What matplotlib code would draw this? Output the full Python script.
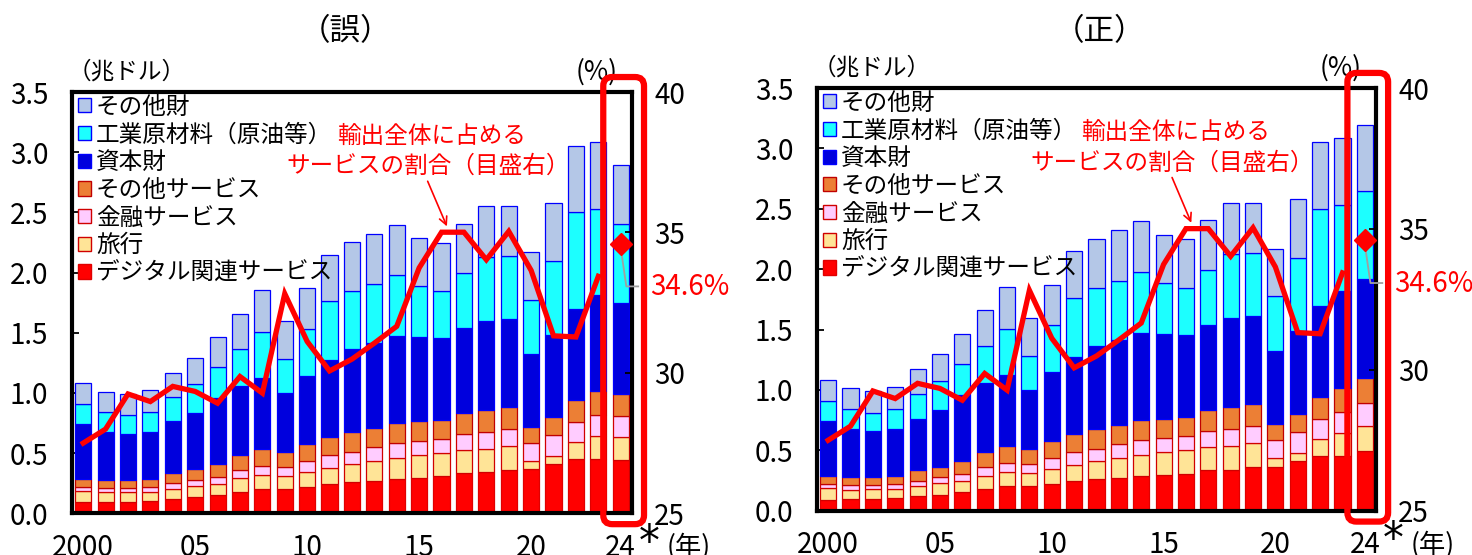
import numpy as np
import matplotlib
matplotlib.use('Agg')
import matplotlib.pyplot as plt
from matplotlib.patches import Patch, FancyBboxPatch
from matplotlib import font_manager

plt.rcParams['font.family'] = ['Noto Sans CJK JP', 'DejaVu Sans']

# 숫자용 좁은 글꼴 (없으면 CJK 글꼴)
installed = {f.name for f in font_manager.fontManager.ttflist}
NUM_FONT = 'Liberation Sans Narrow' if 'Liberation Sans Narrow' in installed else 'Noto Sans CJK JP'

# 데이터 (兆ドル), 2000-2023
years = list(range(2000, 2025))
digital = [0.092, 0.094, 0.097, 0.103, 0.119, 0.133, 0.155, 0.180, 0.202, 0.202, 0.219, 0.247,
           0.261, 0.272, 0.286, 0.297, 0.308, 0.333, 0.341, 0.360, 0.366, 0.410, 0.449, 0.455]
travel = [0.097, 0.081, 0.080, 0.077, 0.083, 0.094, 0.092, 0.111, 0.120, 0.111, 0.125, 0.133,
          0.149, 0.166, 0.177, 0.186, 0.191, 0.191, 0.197, 0.197, 0.067, 0.067, 0.142, 0.188]
finance = [0.033, 0.036, 0.037, 0.039, 0.048, 0.048, 0.053, 0.072, 0.075, 0.070, 0.091, 0.105,
           0.103, 0.111, 0.119, 0.119, 0.117, 0.136, 0.139, 0.145, 0.152, 0.175, 0.166, 0.178]
other_svc = [0.064, 0.064, 0.063, 0.067, 0.086, 0.091, 0.113, 0.122, 0.135, 0.130, 0.139, 0.153,
             0.164, 0.164, 0.167, 0.161, 0.160, 0.172, 0.183, 0.185, 0.136, 0.147, 0.186, 0.199]
capital = [0.454, 0.404, 0.383, 0.388, 0.427, 0.471, 0.544, 0.569, 0.591, 0.485, 0.571, 0.638,
           0.687, 0.701, 0.726, 0.701, 0.680, 0.704, 0.735, 0.727, 0.605, 0.685, 0.754, 0.796]
industrial = [0.167, 0.161, 0.153, 0.166, 0.202, 0.236, 0.258, 0.310, 0.383, 0.286, 0.389, 0.485,
              0.480, 0.491, 0.502, 0.422, 0.388, 0.461, 0.532, 0.521, 0.449, 0.610, 0.804, 0.716]
other_goods = [0.175, 0.172, 0.177, 0.186, 0.205, 0.221, 0.252, 0.294, 0.346, 0.311, 0.338, 0.388,
               0.408, 0.416, 0.422, 0.399, 0.402, 0.407, 0.424, 0.416, 0.394, 0.485, 0.549, 0.552]

# 2024년 값 (digital, travel, finance, other_svc, capital, industrial, other_goods)
wrong_2024 = [0.444, 0.188, 0.175, 0.186, 0.754, 0.657, 0.494]
right_2024 = [0.497, 0.207, 0.190, 0.201, 0.825, 0.730, 0.540]

# 서비스 비중 (%), 2000-2023 + 2024
share = [27.5, 28.0, 29.25, 28.98, 29.52, 29.34, 28.92, 29.87, 29.28, 32.82, 31.12, 30.07,
         30.49, 31.06, 31.66, 33.74, 35.01, 35.01, 34.03, 35.04, 33.65, 31.32, 31.28, 33.44]
share_2024 = 34.6

labels = ['デジタル関連サービス', '旅行', '金融サービス', 'その他サービス',
          '資本財', '工業原材料（原油等）', 'その他財']
face = ['#FF0000', '#FFE497', '#FFCCFF', '#EC7F35', '#0000DD', '#1CFFFF', '#B4C7E7']
edge = ['#E00000', '#D00000', '#D00000', '#C00000', '#0000FF', '#0000FF', '#0000FF']
series = [digital, travel, finance, other_svc, capital, industrial, other_goods]


def draw_panel(ax, vals_2024):
    x = np.arange(len(years))
    bottom = np.zeros(len(years))
    for s, v, fc, ec in zip(series, vals_2024, face, edge):
        h = np.array(s + [v])
        ax.bar(x, h, width=0.72, bottom=bottom, color=fc, edgecolor=ec, linewidth=0.9, zorder=2)
        bottom += h

    ax.set_xlim(-0.5, 24.5)
    ax.set_ylim(0, 3.5)
    ax.set_yticks(np.arange(0, 3.51, 0.5))
    ax.set_yticklabels([f'{v:.1f}' for v in np.arange(0, 3.51, 0.5)], fontfamily=NUM_FONT, fontsize=20)
    ax.set_xticks([0, 5, 10, 15, 20, 24])
    ax.set_xticklabels(['2000', '05', '10', '15', '20', '24'], fontfamily=NUM_FONT, fontsize=20)
    ax.tick_params(axis='y', direction='in', length=5, width=1.3, pad=17)
    ax.tick_params(axis='x', length=0, pad=14)
    for sp in ax.spines.values():
        sp.set_linewidth(3)
        sp.set_zorder(5)

    # 범례
    handles = [Patch(facecolor=fc, edgecolor=ec, linewidth=1) for fc, ec in zip(face, edge)][::-1]
    ax.legend(handles, labels[::-1], loc='upper left', bbox_to_anchor=(0.005, 1.0),
              frameon=False, fontsize=17, handlelength=0.55, handleheight=0.55,
              handletextpad=0.2, labelspacing=0.2, borderpad=0.15, borderaxespad=0)

    # 주석 (두 줄)
    ax.text(15.55, 3.13, '輸出全体に占める', ha='center', va='center',
            color='#FF0000', fontsize=17)
    ax.text(15.4, 2.88, 'サービスの割合（目盛右）', ha='center', va='center',
            color='#FF0000', fontsize=17)
    ax.annotate('', xy=(16.24, 2.384), xytext=(15.38, 2.759),
                arrowprops=dict(arrowstyle='->', color='#FF0000', lw=1.2,
                                shrinkA=0, shrinkB=0, mutation_scale=14))

    ax.text(-0.008, 1.047, '（兆ドル）', transform=ax.transAxes, ha='left', va='center', fontsize=17)
    ax.text(0.9, 1.047, '(%)', transform=ax.transAxes, ha='left', va='center', fontsize=19)
    ax.text(1.012, -0.07, '*', transform=ax.transAxes, ha='left', va='center',
            fontsize=30, fontfamily='DejaVu Sans')
    ax.text(1.062, -0.08, '(年)', transform=ax.transAxes, ha='left', va='center', fontsize=19)

    # 오른쪽 축: 비중
    axr = ax.twinx()
    axr.set_ylim(25, 40)
    axr.set_yticks([25, 30, 35, 40])
    axr.set_yticklabels(['25', '30', '35', '40'], fontfamily=NUM_FONT, fontsize=20)
    axr.tick_params(axis='y', direction='in', length=5, width=1.3, pad=16)
    for sp in axr.spines.values():
        sp.set_visible(False)
    axr.plot(x[:-1], share, color='#FF0000', lw=3.8, solid_joinstyle='miter', zorder=4)
    axr.plot([24], [share_2024], marker='D', ms=11, color='#FF0000', zorder=6)
    axr.plot([24.0, 24.25, 24.78], [34.45, 33.08, 33.08], color='#A0A0A0', lw=1.3,
             clip_on=False, zorder=5)
    axr.text(25.3, 33.05, f'{share_2024}%', ha='left', va='center', color='#FF0000',
             fontsize=20, fontfamily=NUM_FONT)

    # 2024년 강조 테두리
    box = FancyBboxPatch((23.22, -0.09), 1.82, 3.715, boxstyle='round,pad=0,rounding_size=0.4',
                         mutation_aspect=0.186, transform=ax.transData, facecolor='none',
                         edgecolor='#FF0000', linewidth=4.5, clip_on=False, zorder=10)
    axr.add_patch(box)


fig = plt.figure(figsize=(14.72, 5.55), dpi=100)
ax1 = fig.add_axes([0.0489, 0.0751, 0.3804, 0.759])
ax2 = fig.add_axes([0.555, 0.0798, 0.3798, 0.7616])

draw_panel(ax1, wrong_2024)
draw_panel(ax2, right_2024)

fig.text(0.2344, 0.944, '（誤）', ha='center', va='center', fontsize=22)
fig.text(0.747, 0.944, '（正）', ha='center', va='center', fontsize=22)

fig.savefig('out.png', dpi=100)
